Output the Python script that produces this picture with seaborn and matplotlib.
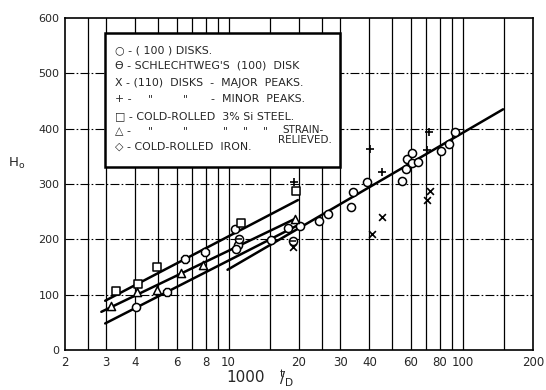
import numpy as np
import pandas as pd
import matplotlib
matplotlib.use("Agg")
import matplotlib.pyplot as plt
import seaborn as sns
from matplotlib.patches import Rectangle

# ---------------- data ----------------
disk100_x = [4.04, 10.7, 11.0, 10.8, 15.2, 18.0, 20.2, 24.3, 26.6, 33.2, 34.0, 39.1,
             54.9, 57.1, 57.8, 60.6, 60.9, 64.2, 81.1, 87.2, 92.6]
disk100_y = [77, 218, 190, 182, 199, 221, 225, 233, 245, 258, 286, 303,
             305, 328, 345, 356, 338, 339, 360, 372, 394]
schlecht_x = [11.1, 18.9]
schlecht_y = [200, 197]
major_x = [18.9, 41.1, 45.4, 70.4, 72.7]
major_y = [186, 210, 240, 271, 288]
minor_x = [19.0, 40.3, 45.4, 70.4, 72.2]
minor_y = [304, 363, 321, 362, 394]
si_x = [3.31, 4.12, 4.96, 11.25, 19.4]
si_y = [107, 119, 150, 229, 288]
relieved_x = [3.15, 4.06, 4.96, 6.28, 7.77, 19.3]
relieved_y = [80, 104, 108, 140, 154, 236]
iron_x = [5.45, 6.49, 7.95]
iron_y = [105, 164, 178]

# fitted lines (end points)
line_si_x, line_si_y = [2.97, 19.8], [89, 271]
line_rel_x, line_rel_y = [2.86, 19.0], [69, 236]
line_low_x, line_low_y = [2.97, 20.3], [48, 228]
line_disk_x, line_disk_y = [9.9, 149], [145, 435]

xtick_vals = [2, 3, 4, 6, 8, 10, 20, 30, 40, 60, 80, 100, 200]
xtick_labels = ["2", "3", "4", "6", "8", "10", "20", "30", "40", "60", "80", "100", "200"]
ytick_vals = [0, 100, 200, 300, 400, 500, 600]
vgrid = [2.5, 3, 4, 5, 6, 7, 8, 9, 10, 15, 20, 25, 30, 40, 50, 60, 70, 80, 90, 100, 150]

# ---------------- figure ----------------
sns.set_style("white")
plt.rcParams['font.family'] = ['DejaVu Sans']
plt.rcParams['mathtext.fontset'] = 'dejavusans'

W, H = 546, 390
fig = plt.figure(figsize=(W / 100, H / 100), dpi=100)
ax = fig.add_axes([65 / W, 1 - 350 / H, (533 - 65) / W, (350 - 18) / H])
ax.set_xscale("log")
ax.set_xlim(2, 200)
ax.set_ylim(0, 600)

# grid
for v in vgrid:
    ax.axvline(v, color="black", lw=0.9, zorder=1)
for h in [100, 200, 300, 400, 500]:
    ax.axhline(h, color="black", lw=0.8, ls=(0, (8, 2, 1.5, 2)), zorder=1)

# lines
for lx, ly in [(line_si_x, line_si_y), (line_rel_x, line_rel_y),
               (line_low_x, line_low_y), (line_disk_x, line_disk_y)]:
    sns.lineplot(x=lx, y=ly, ax=ax, color="black", lw=1.8, zorder=3, estimator=None, sort=False)

kw = dict(ax=ax, color="white", edgecolor="black", linewidth=1.1, zorder=4, legend=False)
sns.scatterplot(x=disk100_x, y=disk100_y, marker="o", s=34, **kw)
sns.scatterplot(x=schlecht_x, y=schlecht_y, marker="o", s=34, **kw)
sns.scatterplot(x=schlecht_x, y=schlecht_y, marker="_", s=24, ax=ax, color="black",
                linewidth=1.1, zorder=5, legend=False)
sns.scatterplot(x=si_x, y=si_y, marker="s", s=30, **kw)
sns.scatterplot(x=relieved_x, y=relieved_y, marker="^", s=34, **kw)
sns.scatterplot(x=iron_x, y=iron_y, marker="8", s=38, **kw)
sns.scatterplot(x=major_x, y=major_y, marker="x", s=24, ax=ax, color="black",
                linewidth=1.2, zorder=5, legend=False)
sns.scatterplot(x=minor_x, y=minor_y, marker="+", s=34, ax=ax, color="black",
                linewidth=1.2, zorder=5, legend=False)

# axes styling
ax.set_xticks(xtick_vals)
ax.set_xticklabels(xtick_labels, fontsize=8.5)
ax.xaxis.set_minor_locator(matplotlib.ticker.NullLocator())
ax.set_yticks(ytick_vals)
ax.set_yticklabels([str(v) for v in ytick_vals], fontsize=8)
ax.tick_params(length=0, pad=4)
for sp in ax.spines.values():
    sp.set_color("black")
    sp.set_linewidth(1.2)
ax.set_xlabel("")
ax.set_ylabel("")

# axis titles
fig.text(17 / W, 1 - 163 / H, r"H$_\mathregular{o}$", fontsize=9.5, ha="center", va="center")
fig.text(246 / W, 1 - 378 / H, "1000", fontsize=11, ha="center", va="center")
fig.text(286 / W, 1 - 378 / H, r"$^{\mathregular{t}}\!\!/_{\mathregular{D}}$",
         fontsize=11, ha="center", va="center")

# legend box
def fx(px):
    return px / W

def fy(py):
    return 1 - py / H

fig.add_artist(Rectangle((fx(105), fy(167)), (340 - 105) / W, (167 - 33) / H,
                         transform=fig.transFigure, facecolor="white",
                         edgecolor="black", lw=1.8, zorder=10))

def t(px, py, s, fs=7.9):
    fig.text(fx(px), fy(py), s, fontsize=fs, va="center", ha="left", zorder=11)

t(115, 50, "○ - ( 100 ) DISKS.")
t(115, 66, "ϴ - SCHLECHTWEG'S  (100)  DISK")
t(115, 83, "X - (110)  DISKS  -  MAJOR  PEAKS.")
t(115, 99, "+ -")
for px in (148, 183):
    t(px, 99, '"')
t(211, 99, "-  MINOR  PEAKS.")
t(115, 116, "□ - COLD-ROLLED  3% Si STEEL.")
t(115, 131, "△ -")
for px in (148, 183, 223, 243, 263):
    t(px, 131, '"')
t(282, 130, "STRAIN-", fs=7.5)
t(278, 140, "RELIEVED.", fs=7.5)
t(115, 147, "◇ - COLD-ROLLED  IRON.")

fig.savefig("out.png", dpi=100)
